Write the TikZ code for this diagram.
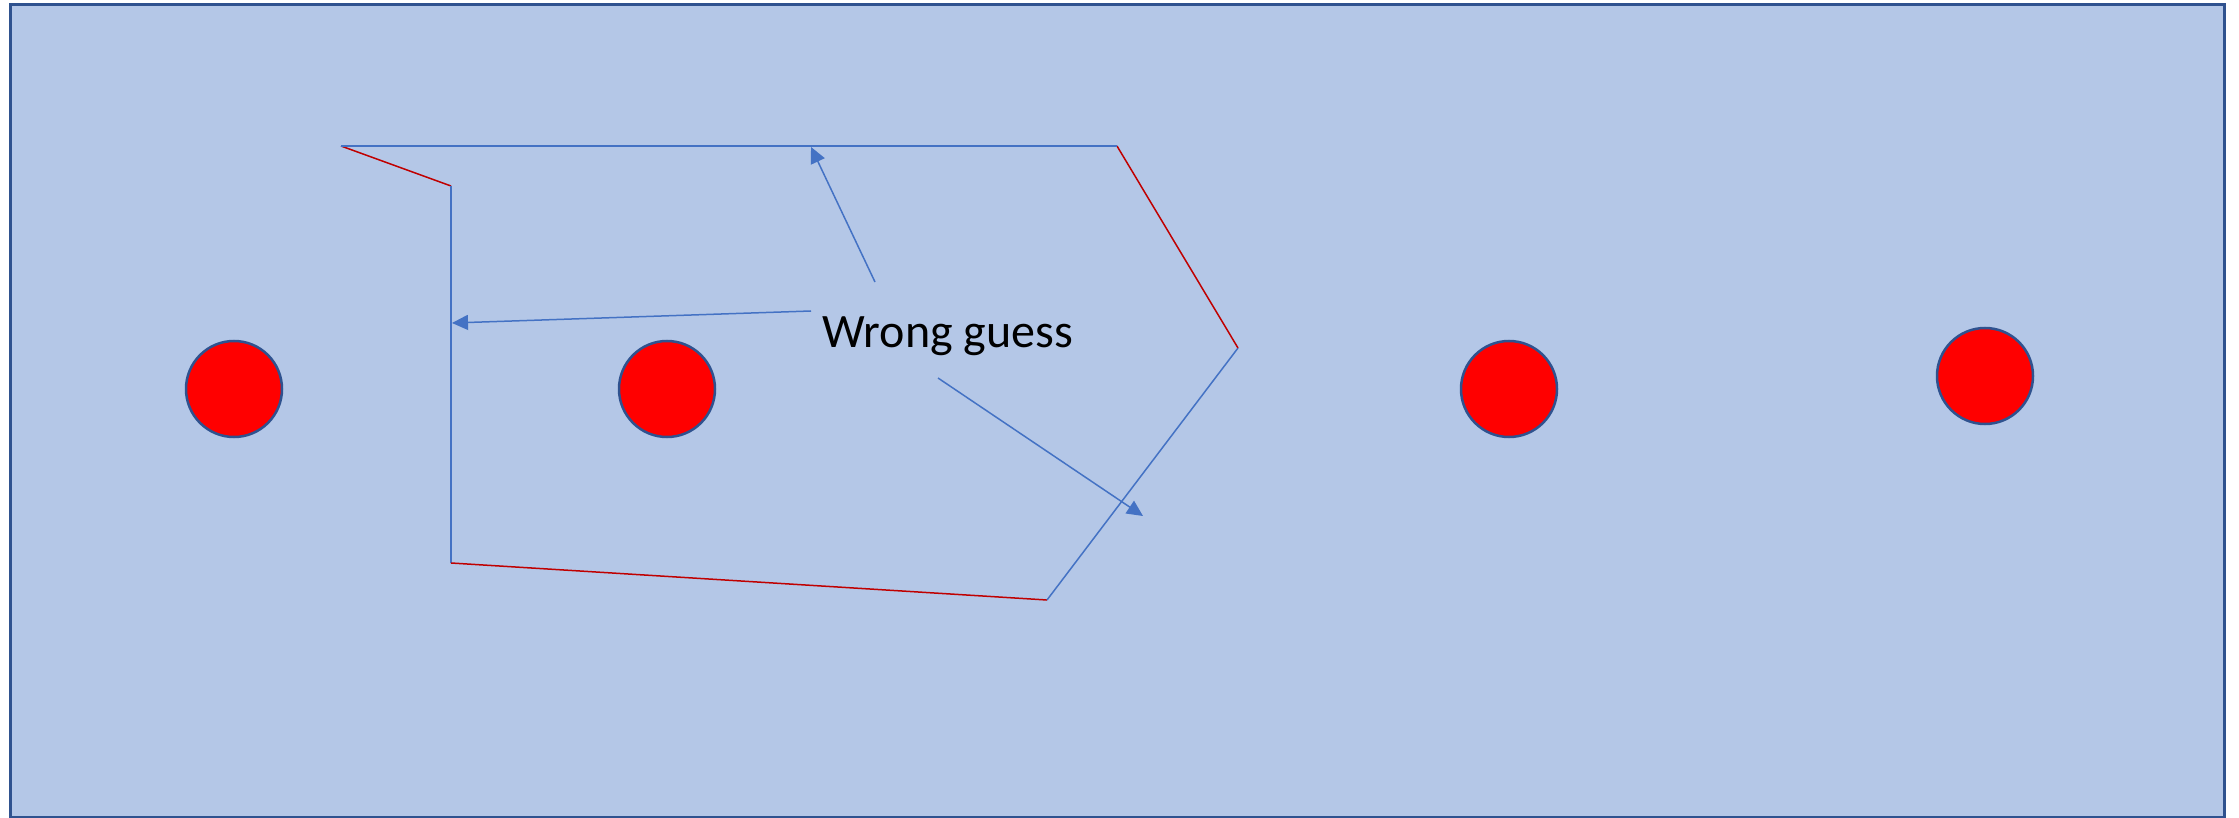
\documentclass[tikz,border=0pt]{standalone}
\usepackage{fontspec}
\setmainfont{Carlito}
\usetikzlibrary{arrows.meta}
\definecolor{bgfill}{HTML}{B4C7E7}
\definecolor{frameblue}{HTML}{2F528F}
\definecolor{lineblue}{HTML}{4472C4}
\definecolor{linered}{HTML}{C00000}
\definecolor{dotred}{HTML}{FF0000}
\tikzset{
  bluepath/.style={draw=lineblue, line width=0.75pt},
  redpath/.style={draw=linered, line width=0.75pt},
  pointer/.style={draw=lineblue, line width=0.75pt, -{Triangle[length=8pt,width=7.5pt]}},
  dot/.style={circle, fill=dotred, draw=frameblue, line width=1.25pt, minimum size=48pt, inner sep=0pt},
  label/.style={inner sep=0pt, anchor=base west, font=\fontsize{24pt}{28pt}\selectfont}
}
\begin{document}
\begin{tikzpicture}[x=0.5pt,y=-0.5pt]
\useasboundingbox (0,0) rectangle (2239,818);
\draw[fill=bgfill, draw=frameblue, line width=1.5pt] (10,5) rectangle (2224,817);
% polygon corners
\coordinate (p1) at (341,146);
\coordinate (p2) at (451,186);
\coordinate (p3) at (451,563);
\coordinate (p4) at (1047,600);
\coordinate (p5) at (1238,348);
\coordinate (p6) at (1117,146);
\draw[redpath] (p1) -- (p2);
\draw[bluepath] (p2) -- (p3);
\draw[redpath] (p3) -- (p4);
\draw[bluepath] (p4) -- (p5);
\draw[redpath] (p5) -- (p6);
\draw[bluepath] (p6) -- (p1);
% circles
\node[dot] (c1) at (234,389) {};
\node[dot] (c2) at (667,389) {};
\node[dot] (c3) at (1509,389) {};
\node[dot] (c4) at (1985,376) {};
% label
\node[label] (lbl) at (822,348) {Wrong guess};
% arrows
\coordinate (a1s) at (875,282);
\coordinate (a1e) at (811,147);
\coordinate (a2s) at (811,311);
\coordinate (a2e) at (452,323);
\coordinate (a3s) at (938,378);
\coordinate (a3e) at (1143,516);
\draw[pointer] (a1s) -- (a1e);
\draw[pointer] (a2s) -- (a2e);
\draw[pointer] (a3s) -- (a3e);
\end{tikzpicture}
\end{document}
